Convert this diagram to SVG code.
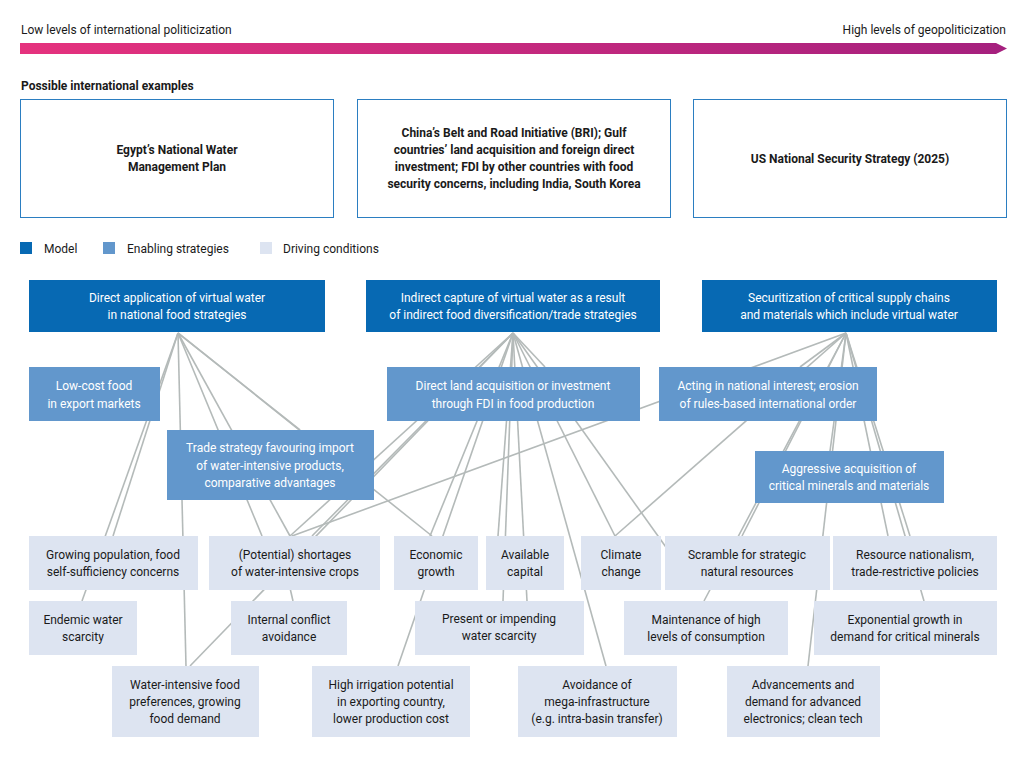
<svg xmlns="http://www.w3.org/2000/svg" width="1028" height="768" viewBox="0 0 1028 768">
<style>
text{font-family:Roboto,"Liberation Sans",sans-serif;font-size:12px;fill:#1a1a1a}
.m rect{fill:#0769b3}.m text{fill:#fff;text-anchor:middle}
.e rect{fill:#6297cc}.e text{fill:#fff;text-anchor:middle}
.d rect{fill:#dde4f1}.d text{text-anchor:middle}
.x rect{fill:#fff;stroke:#2b7ec1;stroke-width:1}.x text{text-anchor:middle;font-weight:bold}
#connectors line{stroke:#b4bab9;stroke-width:1.6}
</style>
<defs><linearGradient id="g" x1="0" x2="1"><stop offset="0" stop-color="#e5327e"/><stop offset="1" stop-color="#a5207e"/></linearGradient></defs>
<text x="21" y="34">Low levels of international politicization</text>
<text x="1006" y="34" text-anchor="end">High levels of geopoliticization</text>
<polygon points="20,43 996,43 1007,48.5 996,54 20,54" fill="url(#g)"/>
<text x="21" y="90" font-weight="bold">Possible international examples</text>
<g id="ex1" class="x"><rect x="20.5" y="99.5" width="313" height="118"/><text x="177" y="154">Egypt’s National Water</text><text x="177" y="171">Management Plan</text></g>
<g id="ex2" class="x"><rect x="357.5" y="99.5" width="313" height="118"/><text x="514" y="137">China’s Belt and Road Initiative (BRI); Gulf</text><text x="514" y="154">countries’ land acquisition and foreign direct</text><text x="514" y="171">investment; FDI by other countries with food</text><text x="514" y="188">security concerns, including India, South Korea</text></g>
<g id="ex3" class="x"><rect x="693.5" y="99.5" width="313" height="118"/><text x="850" y="163">US National Security Strategy (2025)</text></g>
<g id="legend"><rect x="20" y="242" width="12" height="12" fill="#0769b3"/><text x="44" y="253">Model</text><rect x="103" y="242" width="12" height="12" fill="#6297cc"/><text x="127" y="253">Enabling strategies</text><rect x="260" y="242" width="12" height="12" fill="#dde4f1"/><text x="283" y="253">Driving conditions</text></g>
<g id="connectors">
<line x1="178" y1="333" x2="82" y2="601"/><line x1="178" y1="333" x2="113" y2="536"/><line x1="178" y1="333" x2="186" y2="666"/><line x1="178" y1="333" x2="262" y2="536"/><line x1="178" y1="333" x2="290" y2="536"/><line x1="178" y1="333" x2="300" y2="430"/><line x1="178" y1="333" x2="432" y2="536"/>
<line x1="290" y1="588" x2="293" y2="601"/>
<line x1="513" y1="333" x2="290" y2="536"/><line x1="513" y1="333" x2="312" y2="536"/><line x1="513" y1="333" x2="190" y2="666"/><line x1="513" y1="333" x2="430" y2="536"/><line x1="513" y1="333" x2="398" y2="666"/><line x1="513" y1="333" x2="498" y2="536"/><line x1="513" y1="333" x2="503" y2="601"/><line x1="513" y1="333" x2="527" y2="601"/><line x1="513" y1="333" x2="606" y2="666"/><line x1="513" y1="333" x2="615" y2="536"/><line x1="513" y1="333" x2="668" y2="550"/><line x1="513" y1="333" x2="545" y2="367"/>
<line x1="846" y1="333" x2="292" y2="536"/><line x1="846" y1="333" x2="615" y2="536"/><line x1="846" y1="333" x2="704" y2="601"/><line x1="846" y1="333" x2="742" y2="536"/><line x1="846" y1="333" x2="830" y2="451"/><line x1="846" y1="333" x2="808" y2="666"/><line x1="846" y1="333" x2="888" y2="536"/><line x1="846" y1="333" x2="910" y2="536"/><line x1="846" y1="333" x2="924" y2="601"/><line x1="846" y1="333" x2="800" y2="367"/>
</g>
<g id="m1" class="m"><rect x="29" y="280" width="296" height="52"/><text x="177" y="302">Direct application of virtual water</text><text x="177" y="319">in national food strategies</text></g>
<g id="m2" class="m"><rect x="366" y="280" width="294" height="52"/><text x="513" y="302">Indirect capture of virtual water as a result</text><text x="513" y="319">of indirect food diversification/trade strategies</text></g>
<g id="m3" class="m"><rect x="702" y="280" width="295" height="52"/><text x="849" y="302">Securitization of critical supply chains</text><text x="849" y="319">and materials which include virtual water</text></g>
<g id="e1" class="e"><rect x="29" y="367" width="131" height="54"/><text x="94" y="390">Low-cost food</text><text x="94" y="408">in export markets</text></g>
<g id="e2" class="e"><rect x="387" y="367" width="253" height="54"/><text x="513" y="390">Direct land acquisition or investment</text><text x="513" y="408">through FDI in food production</text></g>
<g id="e3" class="e"><rect x="659" y="367" width="218" height="54"/><text x="768" y="390">Acting in national interest; erosion</text><text x="768" y="408">of rules-based international order</text></g>
<g id="e4" class="e"><rect x="167" y="430" width="207" height="70"/><text x="270" y="452">Trade strategy favouring import</text><text x="270" y="470">of water-intensive products,</text><text x="270" y="487">comparative advantages</text></g>
<g id="e5" class="e"><rect x="755" y="451" width="189" height="52"/><text x="849" y="473">Aggressive acquisition of</text><text x="849" y="490">critical minerals and materials</text></g>
<g id="d1" class="d"><rect x="29" y="536" width="169" height="54"/><text x="113" y="559">Growing population, food</text><text x="113" y="576">self-sufficiency concerns</text></g>
<g id="d2" class="d"><rect x="209" y="536" width="171" height="54"/><text x="295" y="559">(Potential) shortages</text><text x="295" y="576">of water-intensive crops</text></g>
<g id="d3" class="d"><rect x="394" y="536" width="84" height="54"/><text x="436" y="559">Economic</text><text x="436" y="576">growth</text></g>
<g id="d4" class="d"><rect x="486" y="536" width="78" height="54"/><text x="525" y="559">Available</text><text x="525" y="576">capital</text></g>
<g id="d5" class="d"><rect x="581" y="536" width="80" height="54"/><text x="621" y="559">Climate</text><text x="621" y="576">change</text></g>
<g id="d6" class="d"><rect x="665" y="536" width="165" height="54"/><text x="747" y="559">Scramble for strategic</text><text x="747" y="576">natural resources</text></g>
<g id="d7" class="d"><rect x="833" y="536" width="164" height="54"/><text x="915" y="559">Resource nationalism,</text><text x="915" y="576">trade-restrictive policies</text></g>
<g id="d8" class="d"><rect x="29" y="601" width="108" height="54"/><text x="83" y="624">Endemic water</text><text x="83" y="641">scarcity</text></g>
<g id="d9" class="d"><rect x="231" y="601" width="116" height="54"/><text x="289" y="624">Internal conflict</text><text x="289" y="641">avoidance</text></g>
<g id="d10" class="d"><rect x="415" y="601" width="169" height="54"/><text x="499" y="623">Present or impending</text><text x="499" y="640">water scarcity</text></g>
<g id="d11" class="d"><rect x="624" y="601" width="164" height="54"/><text x="706" y="624">Maintenance of high</text><text x="706" y="641">levels of consumption</text></g>
<g id="d12" class="d"><rect x="814" y="601" width="183" height="54"/><text x="905" y="624">Exponential growth in</text><text x="905" y="641">demand for critical minerals</text></g>
<g id="d13" class="d"><rect x="112" y="666" width="147" height="71"/><text x="185" y="689">Water-intensive food</text><text x="185" y="706">preferences, growing</text><text x="185" y="723">food demand</text></g>
<g id="d14" class="d"><rect x="312" y="666" width="158" height="71"/><text x="391" y="689">High irrigation potential</text><text x="391" y="706">in exporting country,</text><text x="391" y="723">lower production cost</text></g>
<g id="d15" class="d"><rect x="518" y="666" width="159" height="71"/><text x="597" y="689">Avoidance of</text><text x="597" y="706">mega-infrastructure</text><text x="597" y="723">(e.g. intra-basin transfer)</text></g>
<g id="d16" class="d"><rect x="727" y="666" width="153" height="71"/><text x="803" y="689">Advancements and</text><text x="803" y="706">demand for advanced</text><text x="803" y="723">electronics; clean tech</text></g>
</svg>
